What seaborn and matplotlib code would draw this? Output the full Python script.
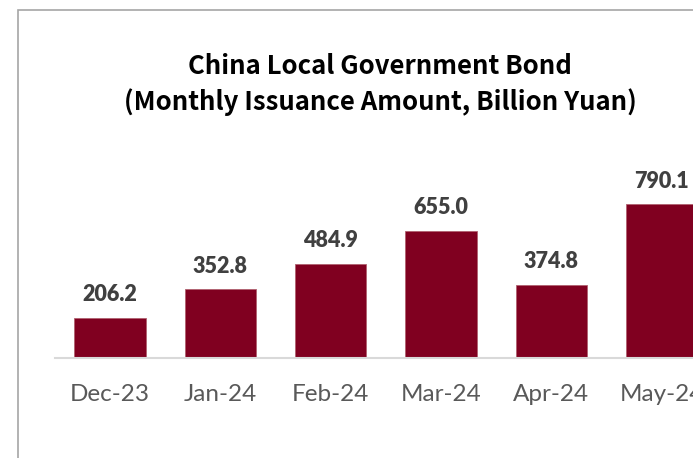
import matplotlib
matplotlib.use("Agg")
import matplotlib.pyplot as plt
from matplotlib.patches import Rectangle
import seaborn as sns
import pandas as pd

months = ["Dec-23", "Jan-24", "Feb-24", "Mar-24", "Apr-24", "May-24"]
issuance = [206.2, 352.8, 484.9, 655.0, 374.8, 790.1]
title_line1 = "China Local Government Bond"
title_line2 = "(Monthly Issuance Amount, Billion Yuan)"

sns.set_theme(style="white")
plt.rcParams["font.family"] = ["Lato", "DejaVu Sans"]

W, H = 693, 458
fig = plt.figure(figsize=(W / 100, H / 100), dpi=100)
fig.patch.set_facecolor("white")

# chart-area border (extends beyond the cropped right/bottom edges)
fig.patches.append(Rectangle((18 / W, -0.1), 1.2, 1 - 10 / H + 0.1,
                             transform=fig.transFigure, fill=False,
                             edgecolor="#A6A6A6", linewidth=1.2, zorder=0))

slot = 110.3
ax = fig.add_axes([55 / W, 100 / H, 6 * slot / W, 194.5 / H])
df = pd.DataFrame({"month": months, "value": issuance})
sns.barplot(data=df, x="month", y="value", color="#800020", saturation=1,
            width=0.647, edgecolor="#B0606F", linewidth=0.6, ax=ax)
ax.set_xlim(-0.5, 5.5)
ax.set_ylim(0, 1000)

for sp in ["left", "right", "top"]:
    ax.spines[sp].set_visible(False)
ax.spines["bottom"].set_color("#D9D9D9")
ax.spines["bottom"].set_linewidth(1.5)
ax.set_yticks([])
ax.set_xlabel("")
ax.set_ylabel("")
ax.tick_params(axis="x", length=0, pad=19, labelsize=17.5, labelcolor="#595959")

for bar, v in zip(ax.containers[0], issuance):
    ax.annotate(f"{v:.1f}", (bar.get_x() + bar.get_width() / 2, bar.get_height()),
                xytext=(0, 12), textcoords="offset points", ha="center",
                va="baseline", fontsize=15.5, fontweight="heavy", color="#404040")

fig.text(380 / W, 1 - 66 / H, title_line1, ha="center", va="center",
         fontsize=18.5, fontweight="bold", color="black",
         family=["Noto Sans CJK JP", "DejaVu Sans"])
fig.text(380 / W, 1 - 102 / H, title_line2, ha="center", va="center",
         fontsize=18.5, fontweight="bold", color="black",
         family=["Noto Sans CJK JP", "DejaVu Sans"])

fig.savefig("out.png", dpi=100)
